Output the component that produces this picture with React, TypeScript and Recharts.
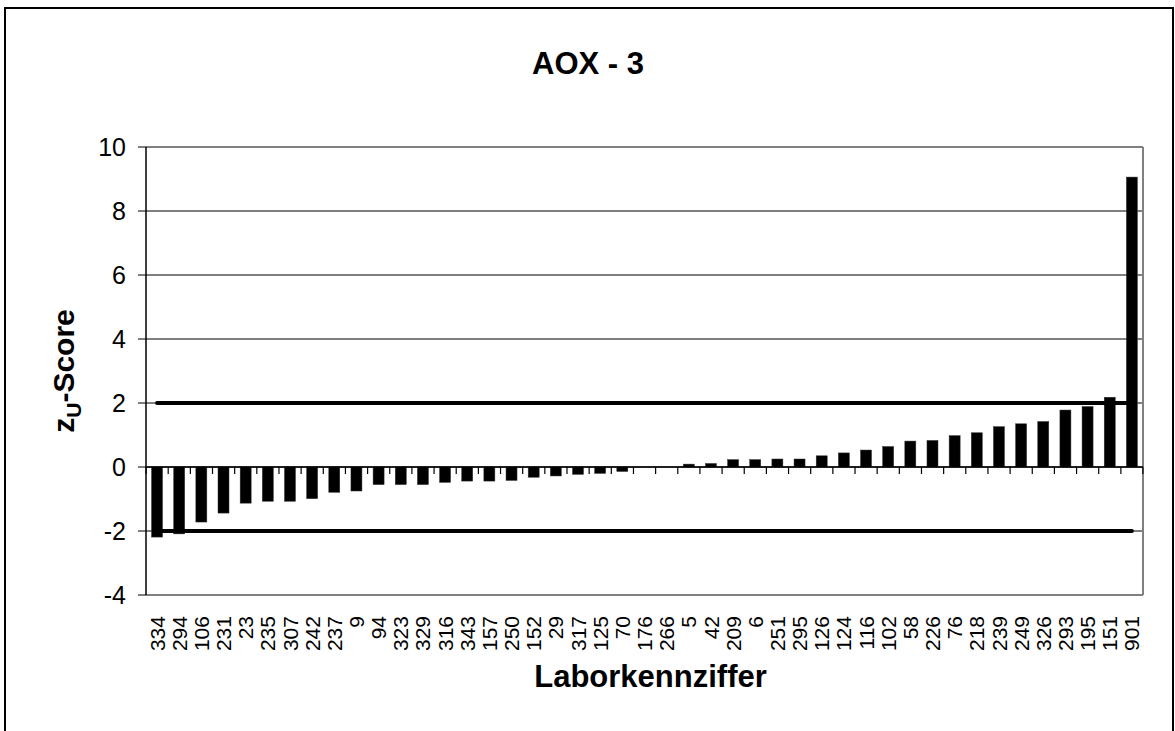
import React from "react";
import {
  ComposedChart,
  Bar,
  Line,
  XAxis,
  YAxis,
  CartesianGrid,
  ReferenceLine,
  Label,
} from "recharts";

const labCodes = ["334","294","106","231","23","235","307","242","237","9","94","323","329","316","343","157","250","152","29","317","125","70","176","266","5","42","209","6","251","295","126","124","116","102","58","226","76","218","239","249","326","293","195","151","901"];
const zScores = [-2.19,-2.09,-1.72,-1.44,-1.13,-1.07,-1.07,-0.99,-0.79,-0.75,-0.55,-0.55,-0.55,-0.48,-0.44,-0.44,-0.42,-0.32,-0.28,-0.23,-0.2,-0.14,0,0,0.09,0.11,0.23,0.23,0.25,0.25,0.35,0.44,0.53,0.64,0.81,0.83,0.98,1.07,1.26,1.35,1.42,1.78,1.89,2.18,9.06];
const upperLimit = 2;
const lowerLimit = -2;
const yTicks = [-4, -2, 0, 2, 4, 6, 8, 10];
const gridValues = [-2, 0, 2, 4, 6, 8];

const data = labCodes.map((code, i) => ({
  code,
  z: zScores[i],
  upper: upperLimit,
  lower: lowerLimit,
}));

const FONT = "Arial, 'Liberation Sans', sans-serif";

const BarShape = (props: any) => {
  const { x, y, width, height, index } = props;
  const zeroY = y + height;
  const top = Math.min(y, y + height);
  const h = Math.abs(height);
  const left = x - width / 2;
  const right = x + width * 1.5;
  return (
    <g>
      {h > 0 && <rect x={x} y={top} width={width} height={h} fill="#000" stroke="#333" strokeWidth={0.5} />}
      <line x1={left} x2={left} y1={zeroY} y2={zeroY + 7} stroke="#000" strokeWidth={1.2} />
      {index === labCodes.length - 1 && (
        <line x1={right} x2={right} y1={zeroY} y2={zeroY + 7} stroke="#000" strokeWidth={1.2} />
      )}
    </g>
  );
};

const XTick = (props: any) => {
  const { x, y, payload } = props;
  return (
    <text
      x={x}
      y={y}
      transform={`rotate(-90 ${x} ${y})`}
      textAnchor="end"
      dy="0.36em"
      fontSize={21}
      fontFamily={FONT}
      fill="#000"
    >
      {payload.value}
    </text>
  );
};

const YTitle = (props: any) => {
  const vb = props.viewBox || {};
  const cx = 63;
  const cy = vb.y + vb.height / 2;
  return (
    <text
      x={cx}
      y={cy}
      transform={`rotate(-90 ${cx} ${cy})`}
      textAnchor="middle"
      dy="0.36em"
      fontSize={30}
      fontWeight="bold"
      fontFamily={FONT}
      fill="#000"
    >
      z
      <tspan fontSize={21} dy="7">U</tspan>
      <tspan dy="-7">-Score</tspan>
    </text>
  );
};

const XTitle = (props: any) => {
  const vb = props.viewBox || {};
  const cx = vb.x + vb.width / 2 + 6;
  return (
    <text
      x={cx}
      y={687}
      textAnchor="middle"
      fontSize={31}
      fontWeight="bold"
      fontFamily={FONT}
      fill="#000"
    >
      Laborkennziffer
    </text>
  );
};

export default function App() {
  return (
    <div
      style={{
        position: "absolute",
        left: 0,
        top: 0,
        width: 1175,
        height: 731,
        overflow: "hidden",
        background: "#fff",
      }}
    >
      <div
        style={{
          position: "absolute",
          left: 4,
          top: 7,
          width: 1170,
          height: 740,
          border: "2px solid #000",
          boxSizing: "border-box",
        }}
      />
      <div style={{ position: "absolute", left: 0, top: 0 }}>
        <ComposedChart
          width={1175}
          height={731}
          data={data}
          margin={{ top: 147, right: 32, left: 66, bottom: 36 }}
          barCategoryGap="25%"
        >
          <text
            x={588}
            y={74}
            textAnchor="middle"
            fontSize={31}
            fontWeight="bold"
            fontFamily={FONT}
            fill="#000"
          >
            AOX - 3
          </text>
          <CartesianGrid
            vertical={false}
            horizontalValues={gridValues}
            stroke="#000"
            strokeWidth={1}
          />
          <CartesianGrid
            horizontalCoordinatesGenerator={({ offset }: any) => [offset.top, offset.top + offset.height]}
            verticalCoordinatesGenerator={({ offset }: any) => [offset.left + offset.width]}
            stroke="#808080"
            strokeWidth={2}
          />
          <XAxis
            dataKey="code"
            height={100}
            interval={0}
            tickLine={false}
            axisLine={{ stroke: "#808080", strokeWidth: 2 }}
            tick={<XTick />}
            tickMargin={15}
          >
            <Label content={<XTitle />} />
          </XAxis>
          <YAxis
            width={80}
            domain={[-4, 10]}
            ticks={yTicks}
            interval={0}
            tickSize={8}
            tickMargin={12}
            tickLine={{ stroke: "#000" }}
            axisLine={{ stroke: "#000", strokeWidth: 1.5 }}
            tick={{ fontSize: 25, fontFamily: FONT, fill: "#000" }}
          >
            <Label content={<YTitle />} />
          </YAxis>
          <ReferenceLine y={0} stroke="#000" strokeWidth={1.5} />
          <Bar dataKey="z" fill="#000" shape={<BarShape />} isAnimationActive={false} />
          <Line
            dataKey="upper"
            stroke="#000"
            strokeWidth={4}
            strokeLinecap="round"
            dot={false}
            activeDot={false}
            isAnimationActive={false}
          />
          <Line
            dataKey="lower"
            stroke="#000"
            strokeWidth={4}
            strokeLinecap="round"
            dot={false}
            activeDot={false}
            isAnimationActive={false}
          />
        </ComposedChart>
      </div>
    </div>
  );
}
